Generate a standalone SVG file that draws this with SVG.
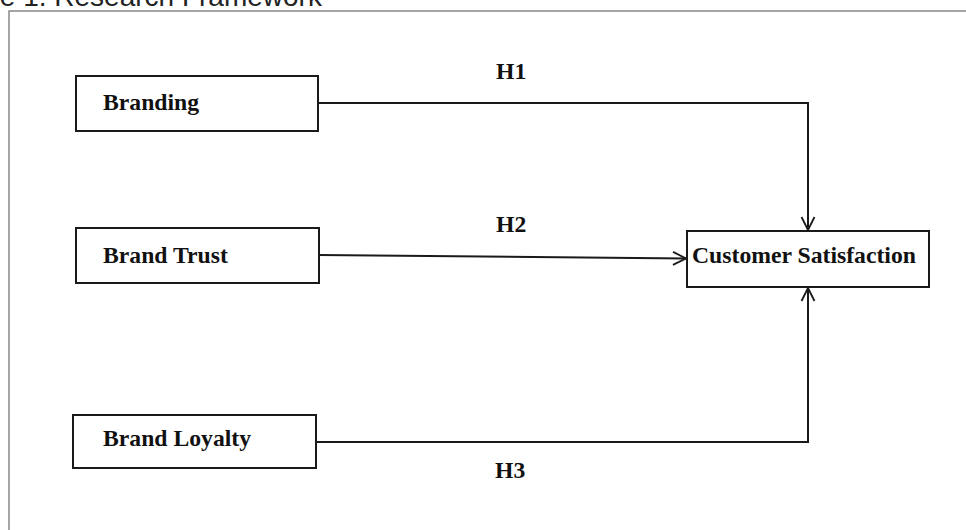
<svg xmlns="http://www.w3.org/2000/svg" width="966" height="530" viewBox="0 0 966 530">
  <style>
    .box { fill: #ffffff; stroke: #1a1a1a; stroke-width: 2; }
    .lbl { font-family: "Liberation Serif", "Times New Roman", serif; font-weight: bold; font-size: 23.7px; fill: #111111; }
    .conn { fill: none; stroke: #1a1a1a; stroke-width: 2; }
    .title { font-family: "Liberation Sans", Arial, sans-serif; font-size: 28px; fill: #222222; }
  </style>
  <defs>
    <marker id="arrow" markerUnits="userSpaceOnUse" viewBox="-15 -9 17 18" refX="0" refY="0" markerWidth="17" markerHeight="18" orient="auto">
      <path d="M-13,-6.5 L0,0 L-13,6.5" fill="none" stroke="#1a1a1a" stroke-width="1.8"/>
    </marker>
  </defs>
  <rect x="0" y="0" width="966" height="530" fill="#ffffff"/>
  <text class="title" x="-64" y="6">Figure 1. Research Framework</text>
  <path d="M9,540 V11 H980" fill="none" stroke="#888888" stroke-width="1.5"/>

  <g id="connectors">
    <path class="conn" d="M318,103 H808 V230" marker-end="url(#arrow)"/>
    <path class="conn" d="M319,255 L686,258.5" marker-end="url(#arrow)"/>
    <path class="conn" d="M316,442 H808 V288" marker-end="url(#arrow)"/>
    <text class="lbl" x="496" y="79">H1</text>
    <text class="lbl" x="496" y="232">H2</text>
    <text class="lbl" x="495" y="478">H3</text>
  </g>

  <g id="branding">
    <rect class="box" x="76" y="76" width="242" height="55"/>
    <text class="lbl" x="103" y="110">Branding</text>
  </g>
  <g id="brand-trust">
    <rect class="box" x="76" y="228" width="243" height="55"/>
    <text class="lbl" x="103" y="263">Brand Trust</text>
  </g>
  <g id="brand-loyalty">
    <rect class="box" x="73" y="415" width="243" height="53"/>
    <text class="lbl" x="103" y="446">Brand Loyalty</text>
  </g>
  <g id="customer-satisfaction">
    <rect class="box" x="687" y="231" width="242" height="56"/>
    <text class="lbl" x="692" y="263">Customer Satisfaction</text>
  </g>
</svg>
